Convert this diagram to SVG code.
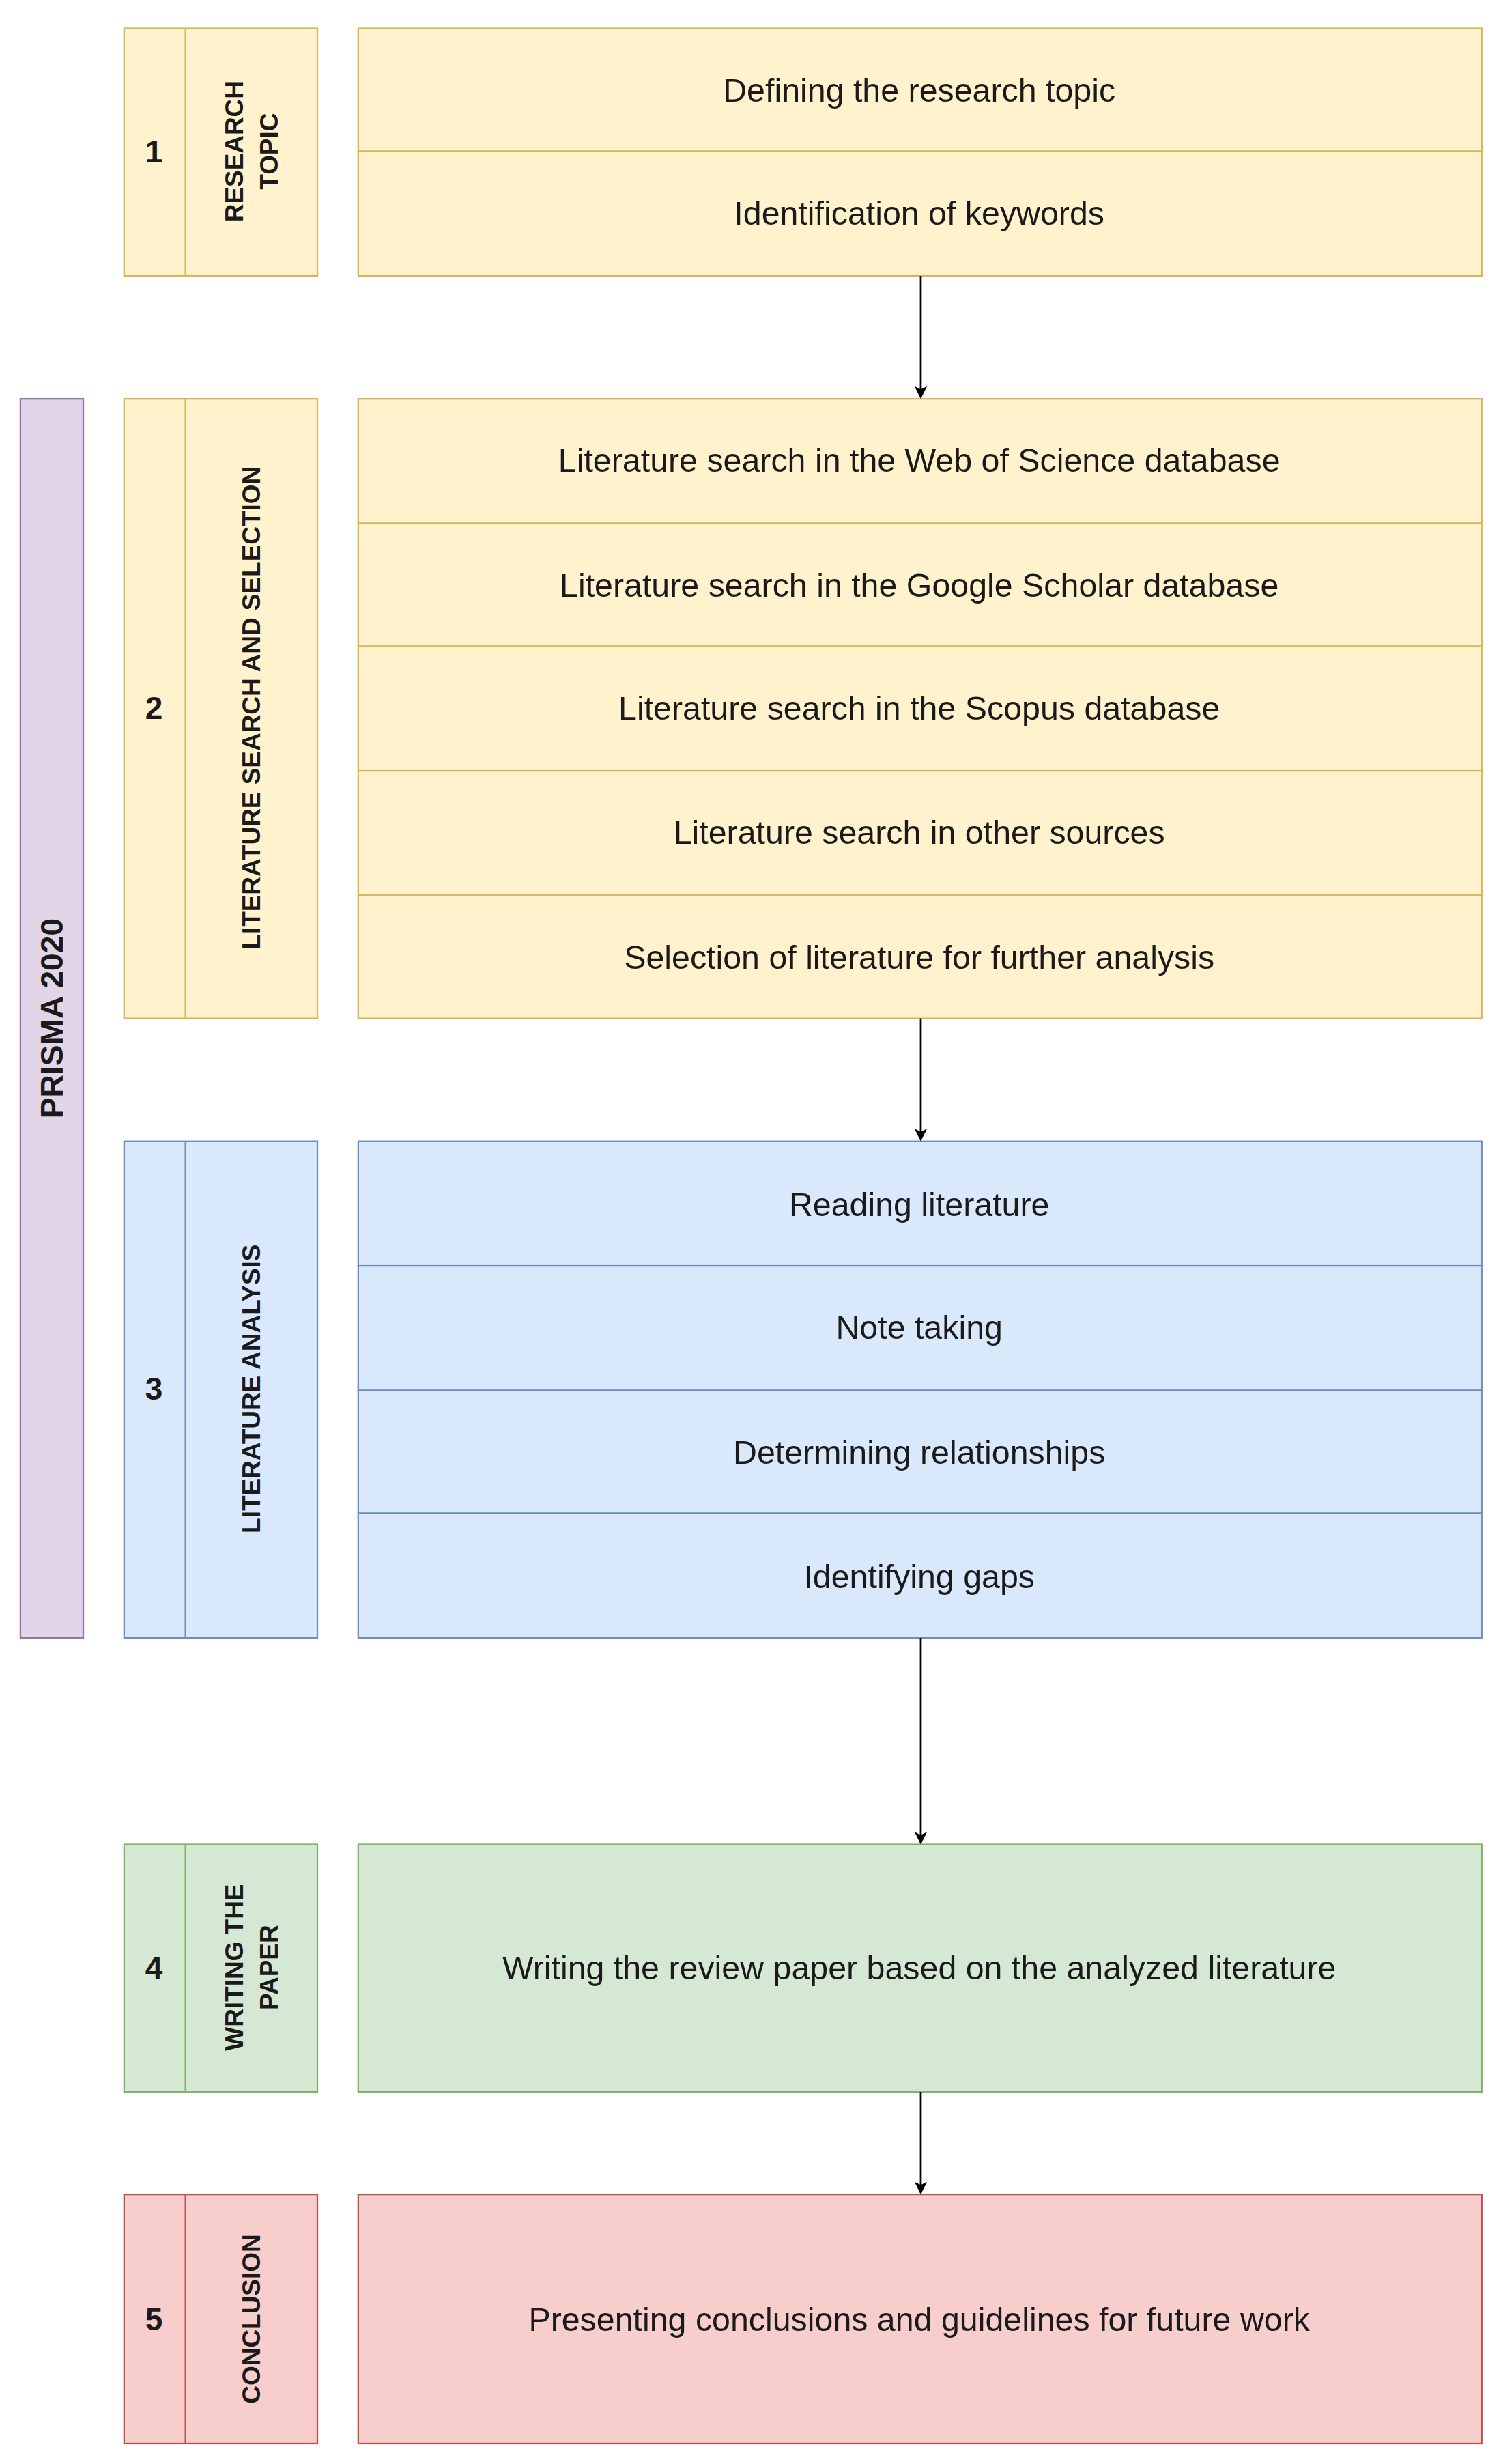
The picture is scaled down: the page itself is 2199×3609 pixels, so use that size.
<svg xmlns="http://www.w3.org/2000/svg" width="2199" height="3609" viewBox="0 0 2199 3609">
<style>
text{font-family:"Liberation Sans",Arial,sans-serif;fill:#1a1a1a}
.c{font-size:21px;text-anchor:middle;dominant-baseline:central}
.n{font-size:20px;font-weight:bold;text-anchor:middle;dominant-baseline:central}
.v{font-size:16px;font-weight:bold;text-anchor:middle;dominant-baseline:central}
.y{fill:#fff2cc;stroke:#d6b656}
.b{fill:#dae8fc;stroke:#6c8ebf}
.g{fill:#d5e8d4;stroke:#82b366}
.r{fill:#f8cecc;stroke:#b85450}
.p{fill:#e1d5e7;stroke:#9673a6}
.e{stroke:#000;stroke-width:1.2;fill:none;marker-end:url(#a)}
</style>
<defs><marker id="a" markerWidth="8" markerHeight="8" refX="7" refY="4" orient="auto" markerUnits="userSpaceOnUse"><path d="M0,0 L8,4 L0,8 L2,4 Z" fill="#000"/></marker></defs>
<rect width="2199" height="3609" fill="#fff"/>
<g transform="scale(2.302 2.309)">
<g id="prisma"><rect class="p" x="13" y="253" width="40" height="786"/><text class="n" transform="translate(33 646) rotate(-90)">PRISMA 2020</text></g>
<g id="s1">
<rect class="y" x="79" y="18" width="123" height="157"/><line class="y" x1="118" y1="18" x2="118" y2="175"/>
<text class="n" x="98" y="96">1</text>
<text class="v" transform="translate(160 96) rotate(-90)"><tspan x="0" dy="-11">RESEARCH</tspan><tspan x="0" dy="22">TOPIC</tspan></text>
<rect class="y" x="228" y="18" width="715" height="78"/><text class="c" x="585" y="57">Defining the research topic</text>
<rect class="y" x="228" y="96" width="715" height="79"/><text class="c" x="585" y="135">Identification of keywords</text>
</g>
<g id="s2">
<rect class="y" x="79" y="253" width="123" height="393"/><line class="y" x1="118" y1="253" x2="118" y2="646"/>
<text class="n" x="98" y="449">2</text>
<text class="v" transform="translate(160 449) rotate(-90)">LITERATURE SEARCH AND SELECTION</text>
<rect class="y" x="228" y="253" width="715" height="79"/><text class="c" x="585" y="292">Literature search in the Web of Science database</text>
<rect class="y" x="228" y="332" width="715" height="78"/><text class="c" x="585" y="371">Literature search in the Google Scholar database</text>
<rect class="y" x="228" y="410" width="715" height="79"/><text class="c" x="585" y="449">Literature search in the Scopus database</text>
<rect class="y" x="228" y="489" width="715" height="79"/><text class="c" x="585" y="528">Literature search in other sources</text>
<rect class="y" x="228" y="568" width="715" height="78"/><text class="c" x="585" y="607">Selection of literature for further analysis</text>
</g>
<g id="s3">
<rect class="b" x="79" y="724" width="123" height="315"/><line class="b" x1="118" y1="724" x2="118" y2="1039"/>
<text class="n" x="98" y="881">3</text>
<text class="v" transform="translate(160 881) rotate(-90)">LITERATURE ANALYSIS</text>
<rect class="b" x="228" y="724" width="715" height="79"/><text class="c" x="585" y="764">Reading literature</text>
<rect class="b" x="228" y="803" width="715" height="79"/><text class="c" x="585" y="842">Note taking</text>
<rect class="b" x="228" y="882" width="715" height="78"/><text class="c" x="585" y="921">Determining relationships</text>
<rect class="b" x="228" y="960" width="715" height="79"/><text class="c" x="585" y="1000">Identifying gaps</text>
</g>
<g id="s4">
<rect class="g" x="79" y="1170" width="123" height="157"/><line class="g" x1="118" y1="1170" x2="118" y2="1327"/>
<text class="n" x="98" y="1248">4</text>
<text class="v" transform="translate(160 1248) rotate(-90)"><tspan x="0" dy="-11">WRITING THE</tspan><tspan x="0" dy="22">PAPER</tspan></text>
<rect class="g" x="228" y="1170" width="715" height="157"/><text class="c" x="585" y="1248">Writing the review paper based on the analyzed literature</text>
</g>
<g id="s5">
<rect class="r" x="79" y="1392" width="123" height="158"/><line class="r" x1="118" y1="1392" x2="118" y2="1550"/>
<text class="n" x="98" y="1471">5</text>
<text class="v" transform="translate(160 1471) rotate(-90)">CONCLUSION</text>
<rect class="r" x="228" y="1392" width="715" height="158"/><text class="c" x="585" y="1471">Presenting conclusions and guidelines for future work</text>
</g>
<g id="connectors">
<line class="e" x1="586" y1="175" x2="586" y2="252"/>
<line class="e" x1="586" y1="646" x2="586" y2="723"/>
<line class="e" x1="586" y1="1039" x2="586" y2="1169"/>
<line class="e" x1="586" y1="1327" x2="586" y2="1391"/>
</g>
</g>
</svg>
